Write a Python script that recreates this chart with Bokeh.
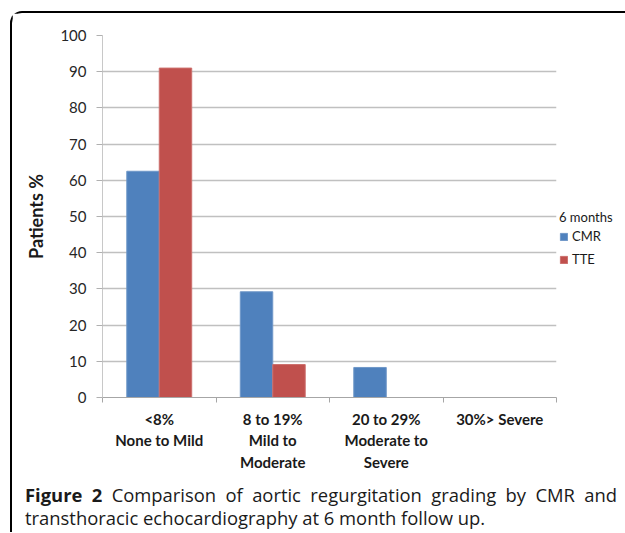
from bokeh.plotting import figure
from bokeh.layouts import column
from bokeh.models import (ColumnDataSource, FixedTicker, Legend, LegendItem,
                          Range1d, Div)
from bokeh.transform import dodge
from bokeh.embed import file_html
from bokeh.resources import INLINE

categories = ["<8%\nNone to Mild", "8 to 19%\nMild to\nModerate",
              "20 to 29%\nModerate to\nSevere", "30%> Severe"]
cmr = [62.5, 29.2, 8.3, 0]
tte = [91.0, 9.1, 0, 0]
y_ticks = [0, 10, 20, 30, 40, 50, 60, 70, 80, 90, 100]
legend_title = "6 months"
series_names = ["CMR", "TTE"]
caption_bold = "Figure 2"
caption_text = ("Comparison of aortic regurgitation grading by CMR and "
                "transthoracic echocardiography at 6 month follow up.")

n = len(categories)
src = ColumnDataSource(dict(x=[i + 0.5 for i in range(n)], cmr=cmr, tte=tte))

p = figure(frame_width=454, frame_height=362, output_backend="svg",
           toolbar_location=None,
           x_range=Range1d(0, n), y_range=Range1d(0, 100),
           min_border_left=90, min_border_right=60, min_border_top=22,
           min_border_bottom=84)
p.outline_line_color = None
p.background_fill_color = "white"
p.border_fill_color = "white"

bw = 0.286
r1 = p.vbar(x=dodge("x", -bw / 2), top="cmr", width=bw, source=src,
            fill_color="#4f81bd", line_color="#6f97c8", line_width=1)
r2 = p.vbar(x=dodge("x", bw / 2), top="tte", width=bw, source=src,
            fill_color="#c0504d", line_color="#cc6f6c", line_width=1)

# x axis
xax = p.xaxis[0]
xax.ticker = FixedTicker(ticks=[i + 0.5 for i in range(n)],
                         minor_ticks=list(range(n + 1)))
xax.major_label_overrides = {i + 0.5: c for i, c in enumerate(categories)}
xax.major_tick_out = 0
xax.major_tick_in = 0
xax.minor_tick_out = 5
xax.minor_tick_in = 0
xax.minor_tick_line_color = "#a6a6a6"
xax.axis_line_color = "#a6a6a6"
xax.major_label_text_font = "Lato"
xax.major_label_text_font_style = "bold"
xax.major_label_text_font_size = "15px"
xax.major_label_text_color = "#1a1a1a"
xax.major_label_text_line_height = 1.2
xax.major_label_standoff = 7

# y axis
yax = p.yaxis[0]
yax.ticker = FixedTicker(ticks=y_ticks)
yax.axis_line_color = "#c8c8c8"
yax.major_tick_out = 6
yax.major_tick_in = 0
yax.major_tick_line_color = "#b0b0b0"
yax.minor_tick_line_color = None
yax.major_label_text_font = "Lato"
yax.major_label_text_font_size = "15px"
yax.major_label_text_color = "#262626"
yax.major_label_standoff = 10
yax.axis_label = "Patients %"
yax.axis_label_text_font = "Lato"
yax.axis_label_text_font_style = "bold"
yax.axis_label_text_font_size = "18px"
yax.axis_label_text_color = "#1a1a1a"
yax.axis_label_standoff = 10

p.xgrid.grid_line_color = None
p.ygrid.ticker = FixedTicker(ticks=y_ticks)
p.ygrid.grid_line_color = "#c0c0c0"
p.ygrid.grid_line_width = 1.3

legend = Legend(items=[LegendItem(label=series_names[0], renderers=[r1]),
                       LegendItem(label=series_names[1], renderers=[r2])],
                title=legend_title, location=(3, 130))
legend.title_text_font = "Lato"
legend.title_text_font_size = "13px"
legend.title_text_font_style = "normal"
legend.title_text_color = "#1a1a1a"
legend.title_standoff = 3
legend.label_text_font = "Lato"
legend.label_text_font_size = "13px"
legend.label_text_color = "#1a1a1a"
legend.glyph_width = 9
legend.glyph_height = 9
legend.label_standoff = 4
legend.spacing = 7
legend.padding = 0
legend.margin = 0
legend.border_line_color = None
legend.background_fill_alpha = 0
p.add_layout(legend, "right")

cap = Div(text=f"<b>{caption_bold}</b> {caption_text}", width=592, height=49,
          margin=(2, 0, 0, 13),
          styles={"font-family": "'Open Sans'", "font-size": "18.4px",
                  "line-height": "23px", "text-align": "justify",
                  "color": "#1a1a1a"})

layout = column(p, cap, spacing=0, margin=(11, 0, 0, 10),
                styles={"border-left": "2px solid black",
                        "border-top": "2px solid black",
                        "border-top-left-radius": "12px"})

open("out.html", "w").write(file_html(layout, INLINE))
